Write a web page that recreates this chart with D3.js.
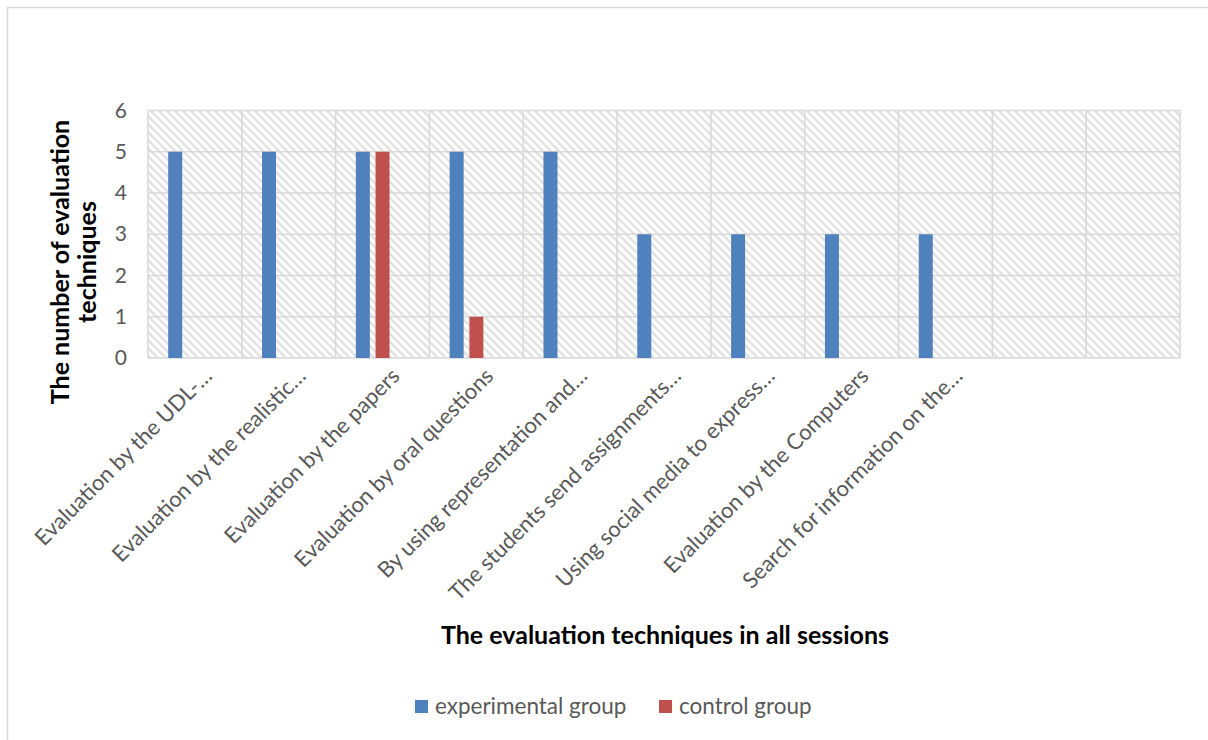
<!DOCTYPE html>
<html>
<head>
<meta charset="utf-8">
<script src="https://cdn.jsdelivr.net/npm/d3@7"></script>
<style>
  html, body { margin: 0; padding: 0; background: #fff; }
  svg { display: block; }
  text { font-family: Lato, "Open Sans", sans-serif; }
</style>
</head>
<body>
<svg id="chart" width="1208" height="740"></svg>
<script>
// ---- data ----
const categories = [
  "Evaluation by the UDL-…",
  "Evaluation by the realistic…",
  "Evaluation by the papers",
  "Evaluation by oral questions",
  "By using representation and…",
  "The students send assignments…",
  "Using social media to express…",
  "Evaluation by the Computers",
  "Search for information on the…",
  "",
  " "
];
const experimentalGroup = [5, 5, 5, 5, 5, 3, 3, 3, 3, null, null];
const controlGroup      = [null, null, 5, 1, null, null, null, null, null, null, null];
const seriesNames = ["experimental group", "control group"];
const yTicks = [0, 1, 2, 3, 4, 5, 6];
const xTitle = "The evaluation techniques in all sessions";
const yTitleLines = ["The number of evaluation", "techniques"];

// ---- layout ----
const W = 1208, H = 740;
const plot = { left: 148, right: 1180, top: 110.5, bottom: 358 };
const colors = ["#4f81bd", "#c0504d"];
const textGray = "#595959";

const svg = d3.select("#chart");

// outer chart border
svg.append("rect")
  .attr("x", 7.5).attr("y", 7.5)
  .attr("width", W + 10).attr("height", H + 10)
  .attr("fill", "#fff").attr("stroke", "#d9d9d9").attr("stroke-width", 1.5);

// hatch pattern
const defs = svg.append("defs");
const pat = defs.append("pattern")
  .attr("id", "hatch").attr("patternUnits", "userSpaceOnUse")
  .attr("width", 8).attr("height", 8);
pat.append("rect").attr("width", 8).attr("height", 8).attr("fill", "#fff");
pat.append("path")
  .attr("d", "M-2,-2 L10,10 M-2,6 L2,10 M6,-2 L10,2")
  .attr("stroke", "#e2e2e2").attr("stroke-width", 2.4);

const x = d3.scaleBand().domain(d3.range(categories.length))
  .range([plot.left, plot.right]).paddingInner(0).paddingOuter(0);
const bw = x.bandwidth();
// three slots per cluster (third slot unused), cluster centered on band
const x1 = d3.scaleBand().domain([0, 1, 2])
  .range([bw / 2 - 29.55, bw / 2 + 29.55])
  .paddingInner(0.29).paddingOuter(0.145);
const y = d3.scaleLinear().domain([0, 6]).range([plot.bottom, plot.top]);

// plot background
svg.append("rect")
  .attr("x", plot.left).attr("y", plot.top)
  .attr("width", plot.right - plot.left).attr("height", plot.bottom - plot.top)
  .attr("fill", "url(#hatch)");

// gridlines
const grid = svg.append("g").attr("stroke", "#d9d9d9").attr("stroke-width", 1.6);
grid.selectAll("line.h").data(yTicks).join("line")
  .attr("x1", plot.left).attr("x2", plot.right)
  .attr("y1", d => y(d)).attr("y2", d => y(d));
const vEdges = d3.range(categories.length).map(i => x(i)).concat([plot.right]);
grid.selectAll("line.v").data(vEdges).join("line")
  .attr("x1", d => d).attr("x2", d => d)
  .attr("y1", plot.top).attr("y2", plot.bottom);

// bars
const seriesData = [experimentalGroup, controlGroup];
seriesData.forEach((vals, s) => {
  svg.append("g").selectAll("rect")
    .data(vals.map((v, i) => ({ v, i })).filter(d => d.v != null))
    .join("rect")
    .attr("x", d => x(d.i) + x1(s))
    .attr("width", x1.bandwidth())
    .attr("y", d => y(d.v))
    .attr("height", d => y(0) - y(d.v))
    .attr("fill", colors[s]);
});

// y axis tick labels
const yAxis = d3.axisLeft(y).tickValues(yTicks).tickSize(0).tickPadding(21).tickFormat(d3.format("d"));
const yg = svg.append("g").attr("transform", `translate(${plot.left},0)`).call(yAxis);
yg.select(".domain").remove();
yg.selectAll("text").attr("fill", textGray).style("font-size", "21px")
  .style("font-family", "Lato, sans-serif");

// x axis labels (rotated)
svg.append("g").selectAll("text")
  .data(categories)
  .join("text")
  .attr("transform", (d, i) => `translate(${x(i) + bw / 2 + 13},${plot.bottom + 14}) rotate(-45)`)
  .attr("text-anchor", "end")
  .attr("dy", "0.35em")
  .attr("fill", textGray)
  .style("font-size", "22px")
  .text(d => d);

// axis titles
svg.append("text")
  .attr("x", 665).attr("y", 644)
  .attr("text-anchor", "middle")
  .attr("fill", "#000").style("font-size", "25px").style("font-weight", "bold")
  .text(xTitle);

const yt = svg.append("text")
  .attr("transform", "translate(69,262) rotate(-90)")
  .attr("text-anchor", "middle")
  .attr("fill", "#000").style("font-size", "25px").style("font-weight", "bold");
yt.selectAll("tspan").data(yTitleLines).join("tspan")
  .attr("x", 0).attr("dy", (d, i) => i === 0 ? 0 : 27)
  .text(d => d);

// legend
const legendX = [415, 659];
const lg = svg.append("g");
seriesNames.forEach((name, s) => {
  lg.append("rect")
    .attr("x", legendX[s]).attr("y", 700)
    .attr("width", 13).attr("height", 13)
    .attr("fill", colors[s]);
  lg.append("text")
    .attr("x", legendX[s] + 20).attr("y", 714)
    .attr("fill", textGray).style("font-size", "22.5px")
    .text(name);
});
</script>
</body>
</html>
